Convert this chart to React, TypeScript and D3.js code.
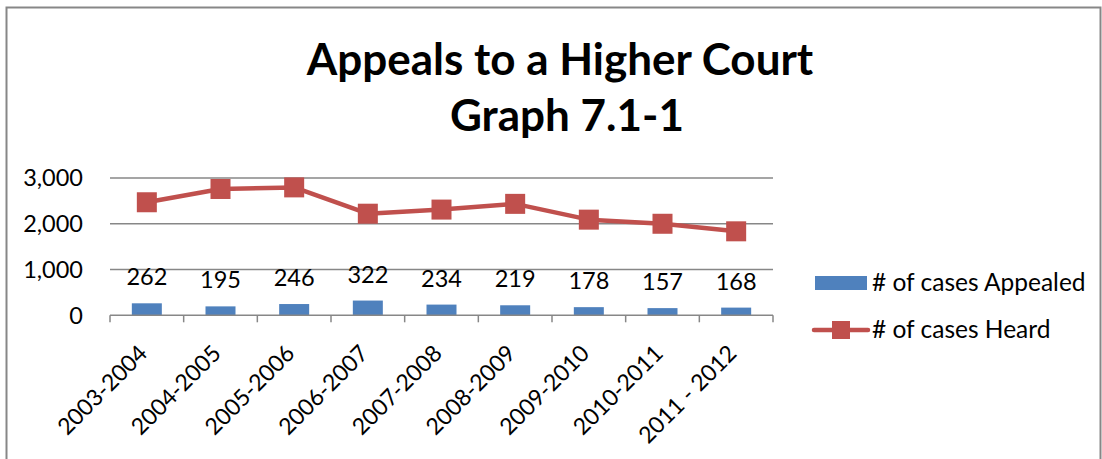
import { useEffect, useRef } from "react";
import * as d3 from "d3";

const seasons = [
  "2003-2004", "2004-2005", "2005-2006", "2006-2007", "2007-2008",
  "2008-2009", "2009-2010", "2010-2011", "2011 - 2012",
];
const appealed = [262, 195, 246, 322, 234, 219, 178, 157, 168];
const heard = [2470, 2760, 2795, 2220, 2310, 2435, 2090, 2000, 1835];
const yTicks = [0, 1000, 2000, 3000];
const titleLines = ["Appeals to a Higher Court", "Graph 7.1-1"];
const legendItems = ["# of cases Appealed", "# of cases Heard"];

const W = 1102;
const H = 459;
const FONT = "Lato, 'Open Sans', sans-serif";
const BLUE = "#4F81BD";
const RED = "#C0504D";
const GRID = "#878787";

export default function App() {
  const ref = useRef<SVGSVGElement | null>(null);

  useEffect(() => {
    const svg = d3.select(ref.current);
    svg.selectAll("*").remove();

    // frame
    svg.append("rect")
      .attr("x", 6.5).attr("y", 7.5)
      .attr("width", 1094).attr("height", 470)
      .attr("fill", "white").attr("stroke", GRID).attr("stroke-width", 2);

    // title
    const title = svg.append("text")
      .attr("font-family", FONT).attr("font-weight", "bold")
      .attr("font-size", 44).attr("fill", "#000").attr("text-anchor", "middle");
    title.append("tspan").attr("x", 560).attr("y", 75).text(titleLines[0]);
    title.append("tspan").attr("x", 567).attr("y", 131).text(titleLines[1]);

    const x = d3.scaleBand<string>().domain(seasons).range([110, 773]);
    const y = d3.scaleLinear().domain([0, 3000]).range([315.3, 178]);

    // gridlines
    svg.append("g").selectAll("line")
      .data(yTicks.filter((t) => t > 0))
      .join("line")
      .attr("x1", 110).attr("x2", 773)
      .attr("y1", (d) => y(d)).attr("y2", (d) => y(d))
      .attr("stroke", GRID).attr("stroke-width", 1.5);

    // y labels
    svg.append("g").selectAll("text")
      .data(yTicks)
      .join("text")
      .attr("x", 83).attr("y", (d) => y(d)).attr("dy", "0.36em")
      .attr("text-anchor", "end")
      .attr("font-family", FONT).attr("font-size", 23.5).attr("fill", "#000")
      .text((d) => d3.format(",")(d));

    // bars
    const bw = 30;
    svg.append("g").selectAll("rect")
      .data(appealed)
      .join("rect")
      .attr("x", (_, i) => x(seasons[i])! + x.bandwidth() / 2 - bw / 2)
      .attr("y", (d) => y(d))
      .attr("width", bw)
      .attr("height", (d) => y(0) - y(d))
      .attr("fill", BLUE);

    // data labels
    svg.append("g").selectAll("text")
      .data(appealed)
      .join("text")
      .attr("x", (_, i) => x(seasons[i])! + x.bandwidth() / 2)
      .attr("y", (d) => y(d) - 18)
      .attr("text-anchor", "middle")
      .attr("font-family", FONT).attr("font-size", 23.5).attr("fill", "#000")
      .text((d) => d);

    // x axis
    svg.append("line")
      .attr("x1", 110).attr("x2", 773).attr("y1", y(0)).attr("y2", y(0))
      .attr("stroke", GRID).attr("stroke-width", 1.5);
    const edges = seasons.map((s) => x(s)!).concat([773]);
    svg.append("g").selectAll("line")
      .data(edges)
      .join("line")
      .attr("x1", (d) => d).attr("x2", (d) => d)
      .attr("y1", y(0)).attr("y2", y(0) + 7)
      .attr("stroke", GRID).attr("stroke-width", 1.5);

    svg.append("g").selectAll("text")
      .data(seasons)
      .join("text")
      .attr("transform", (d) => `translate(${x(d)! + x.bandwidth() / 2 - 4},${349}) rotate(-45)`)
      .attr("text-anchor", "end")
      .attr("dy", "0.36em")
      .attr("font-family", FONT).attr("font-size", 23).attr("fill", "#000")
      .text((d) => d);

    // line series
    const line = d3.line<number>()
      .x((_, i) => x(seasons[i])! + x.bandwidth() / 2)
      .y((d) => y(d));
    svg.append("path")
      .datum(heard)
      .attr("d", line)
      .attr("fill", "none").attr("stroke", RED).attr("stroke-width", 4.5)
      .attr("stroke-linejoin", "round");
    const ms = 20;
    svg.append("g").selectAll("rect")
      .data(heard)
      .join("rect")
      .attr("x", (_, i) => x(seasons[i])! + x.bandwidth() / 2 - ms / 2)
      .attr("y", (d) => y(d) - ms / 2)
      .attr("width", ms).attr("height", ms)
      .attr("fill", RED);

    // legend
    const lg = svg.append("g");
    lg.append("rect").attr("x", 815).attr("y", 276).attr("width", 52).attr("height", 14).attr("fill", BLUE);
    lg.append("line").attr("x1", 814).attr("x2", 868).attr("y1", 330).attr("y2", 330)
      .attr("stroke", RED).attr("stroke-width", 4.5).attr("stroke-linecap", "round");
    lg.append("rect").attr("x", 832).attr("y", 321).attr("width", 18).attr("height", 18).attr("fill", RED);
    lg.selectAll("text.item")
      .data(legendItems)
      .join("text")
      .attr("x", 872).attr("y", (_, i) => 282 + i * 47).attr("dy", "0.36em")
      .attr("font-family", FONT).attr("font-size", 24.5).attr("fill", "#000")
      .text((d) => d);
  }, []);

  return (
    <div style={{ position: "absolute", left: 0, top: 0 }}>
      <svg ref={ref} width={W} height={H} style={{ display: "block" }} />
    </div>
  );
}
